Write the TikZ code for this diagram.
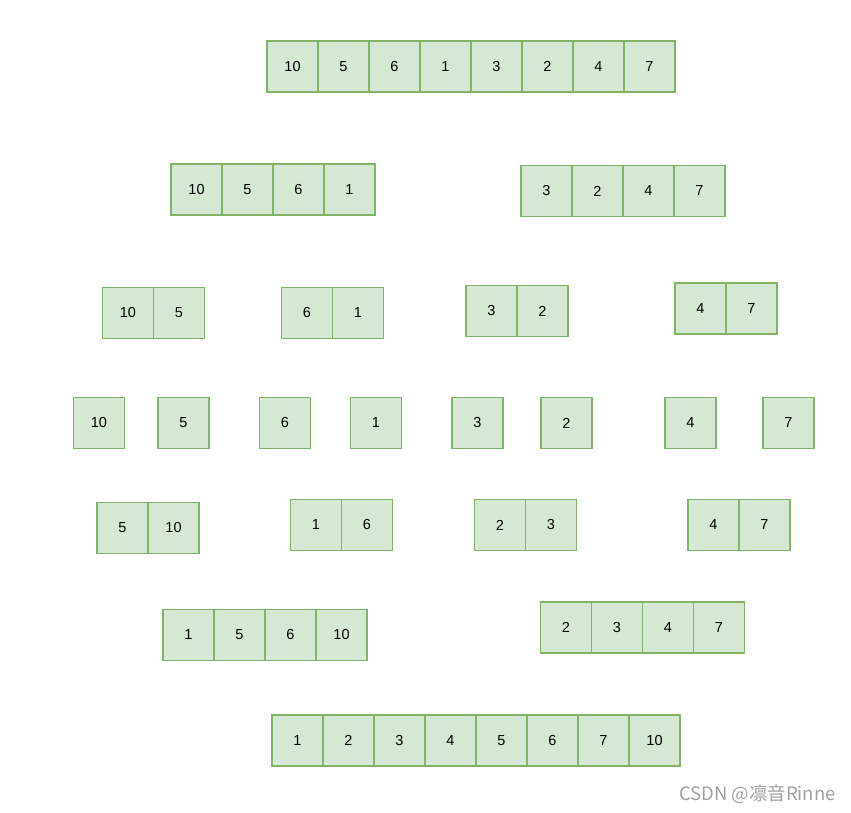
\documentclass[tikz,border=0pt]{standalone}
\usepackage{fontspec}
\setmainfont{Liberation Sans}
\newfontfamily\cjk{Noto Sans CJK SC}
\definecolor{cellfill}{HTML}{D5E8D4}
\definecolor{cellline}{HTML}{82B366}
\definecolor{markgray}{HTML}{A0A0A0}

\begin{document}
\begin{tikzpicture}[x=1pt,y=-1pt,node distance=51pt,
    cell/.style={draw=cellline,fill=cellfill,line width=1.3pt,minimum size=51pt,inner sep=0pt,font=\fontsize{14.5}{16}\selectfont}]
        \useasboundingbox (0,0) rectangle (851,813);

        \node[cell] (a1) at (292.5,66.5) {10};
        \node[cell] (a2) [right of=a1] {5};
        \node[cell] (a3) [right of=a2] {6};
        \node[cell] (a4) [right of=a3] {1};
        \node[cell] (a5) [right of=a4] {3};
        \node[cell] (a6) [right of=a5] {2};
        \node[cell] (a7) [right of=a6] {4};
        \node[cell] (a8) [right of=a7] {7};

        \node[cell] (b1) at (196.5,189.5) {10};
        \node[cell] (b2) [right of=b1] {5};
        \node[cell] (b3) [right of=b2] {6};
        \node[cell] (b4) [right of=b3] {1};
        \node[cell] (b5) at (546.5,191) {3};
        \node[cell] (b6) [right of=b5] {2};
        \node[cell] (b7) [right of=b6] {4};
        \node[cell] (b8) [right of=b7] {7};

        \node[cell] (c1) at (128,313) {10};
        \node[cell] (c2) [right of=c1] {5};
        \node[cell] (c3) at (307,313) {6};
        \node[cell] (c4) [right of=c3] {1};
        \node[cell] (c5) at (491.5,311) {3};
        \node[cell] (c6) [right of=c5] {2};
        \node[cell] (c7) at (700.5,308.5) {4};
        \node[cell] (c8) [right of=c7] {7};

        \node[cell] (d1) at (99,423) {10};
        \node[cell] (d2) at (183.5,423) {5};
        \node[cell] (d3) at (285,423) {6};
        \node[cell] (d4) at (376,423) {1};
        \node[cell] (d5) at (477.5,423) {3};
        \node[cell] (d6) at (566.5,423) {2};
        \node[cell] (d7) at (690.5,423) {4};
        \node[cell] (d8) at (788.5,423) {7};

        \node[cell] (e1) at (122.5,528) {5};
        \node[cell] (e2) [right of=e1] {10};
        \node[cell] (e3) at (316,525) {1};
        \node[cell] (e4) [right of=e3] {6};
        \node[cell] (e5) at (500,525) {2};
        \node[cell] (e6) [right of=e5] {3};
        \node[cell] (e7) at (713.5,525) {4};
        \node[cell] (e8) [right of=e7] {7};

        \node[cell] (f1) at (188.5,635) {1};
        \node[cell] (f2) [right of=f1] {5};
        \node[cell] (f3) [right of=f2] {6};
        \node[cell] (f4) [right of=f3] {10};
        \node[cell] (f5) at (566,627.5) {2};
        \node[cell] (f6) [right of=f5] {3};
        \node[cell] (f7) [right of=f6] {4};
        \node[cell] (f8) [right of=f7] {7};

        \node[cell] (g1) at (297.5,740.5) {1};
        \node[cell] (g2) [right of=g1] {2};
        \node[cell] (g3) [right of=g2] {3};
        \node[cell] (g4) [right of=g3] {4};
        \node[cell] (g5) [right of=g4] {5};
        \node[cell] (g6) [right of=g5] {6};
        \node[cell] (g7) [right of=g6] {7};
        \node[cell] (g8) [right of=g7] {10};

        \node[anchor=east,inner sep=0pt,text=markgray,font=\cjk\fontsize{18.5}{20}\selectfont] (mark) at (836,794) {CSDN @凛音Rinne};
    \end{tikzpicture}
\end{document}
